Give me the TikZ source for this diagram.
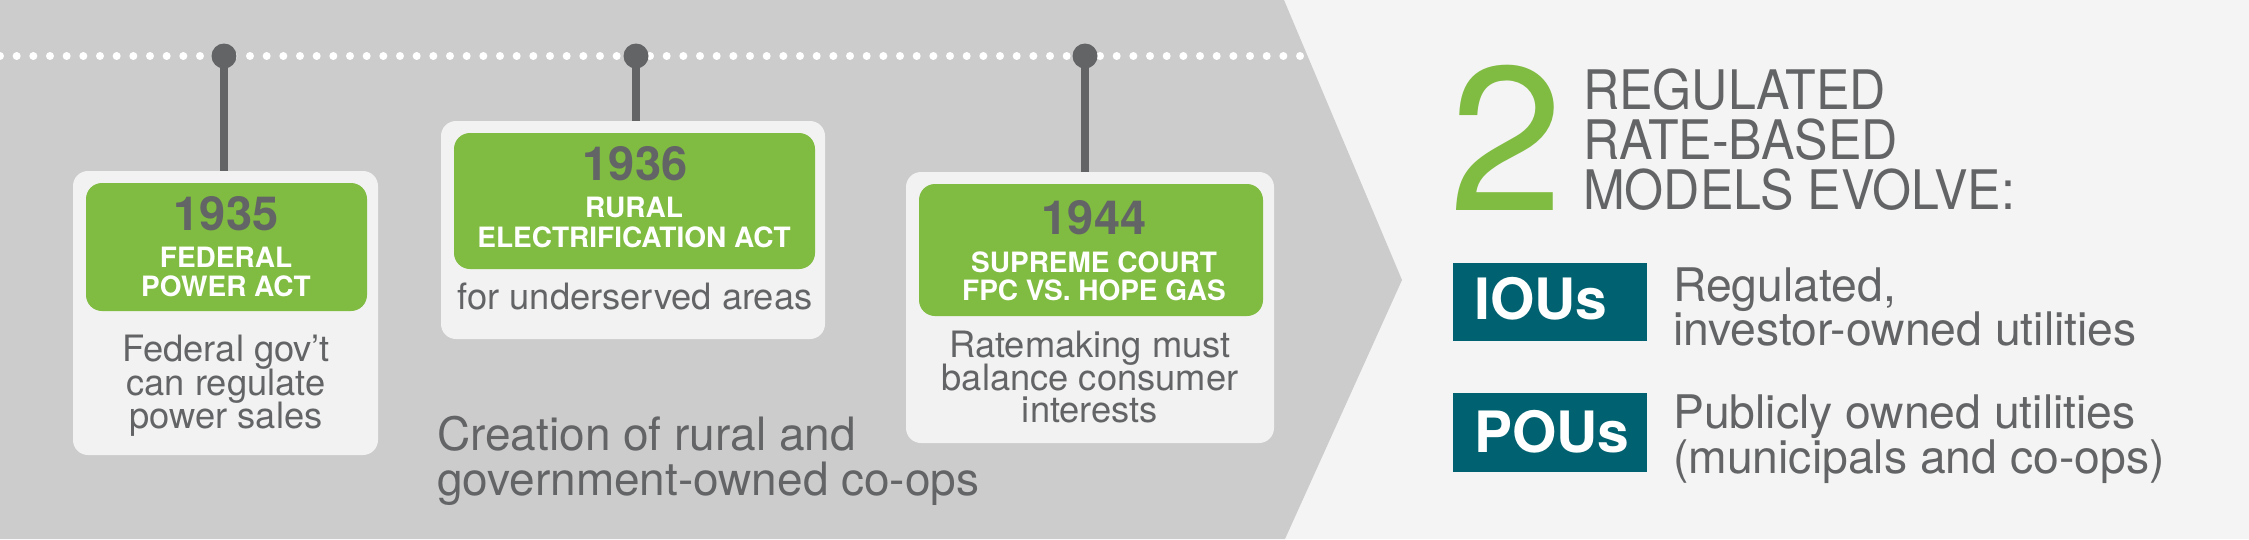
\documentclass[tikz,border=0pt]{standalone}
\usepackage{fontspec}
\setmainfont{TeX Gyre Heros}
\newfontfamily\headfont{TeX Gyre Heros}[FakeStretch=0.92]
\definecolor{graybg}{HTML}{CCCCCC}
\definecolor{lightbg}{HTML}{F4F4F4}
\definecolor{boxbg}{HTML}{F2F2F2}
\definecolor{leaf}{HTML}{80BC41}
\definecolor{teal}{HTML}{006270}
\definecolor{dark}{HTML}{636466}
\tikzset{
  outerbox/.style={fill=boxbg, rounded corners=15pt, inner sep=0pt},
  greenbox/.style={fill=leaf, rounded corners=16pt, inner sep=0pt},
  pinhead/.style={circle, fill=dark, minimum size=25pt, inner sep=0pt},
  stem/.style={draw=dark, line width=8pt},
  yeartxt/.style={font=\bfseries\fontsize{47}{47}\selectfont, text=dark, anchor=base, inner sep=0pt},
  titletxt/.style={font=\bfseries\fontsize{28}{28}\selectfont, text=white, anchor=base, inner sep=0pt},
  bodytxt/.style={font=\fontsize{36.3}{36}\selectfont, text=dark, anchor=base, inner sep=0pt},
  notetxt/.style={font=\fontsize{46}{46}\selectfont, text=dark, anchor=base west, inner sep=0pt},
  headtxt/.style={font=\headfont\fontsize{54.5}{50}\selectfont, text=dark, anchor=base west, inner sep=0pt},
  tealbox/.style={fill=teal, minimum width=194pt, minimum height=78pt, inner sep=0pt},
  tealtxt/.style={font=\bfseries\fontsize{57}{57}\selectfont, text=white, anchor=base west, inner sep=0pt},
  desctxt/.style={font=\fontsize{46.3}{46}\selectfont, text=dark, anchor=base west, inner sep=0pt},
}
\begin{document}
\begin{tikzpicture}[x=1pt,y=-1pt]
\useasboundingbox (0,0) rectangle (2249,539);
% backgrounds
\fill[lightbg] (0,0) rectangle (2249,539);
\fill[graybg] (0,0) -- (1284,0) -- (1402,280) -- (1285,539) -- (0,539) -- cycle;
% dotted timeline
\foreach \k in {0,...,78} \fill[white] (\k*16.667,56) circle (4pt);
% pins
\node[pinhead] (p1) at (224,56) {};
\node[pinhead] (p2) at (636,56) {};
\node[pinhead] (p3) at (1085,56) {};
% boxes
\node[outerbox, minimum width=305pt, minimum height=284pt] (box1) at (225.5,313) {};
\node[outerbox, minimum width=384pt, minimum height=218pt] (box2) at (633,230) {};
\node[outerbox, minimum width=368pt, minimum height=271pt] (box3) at (1090,307.5) {};
\draw[stem] (p1.center) -- (p1.center |- box1.north);
\draw[stem] (p2.center) -- (p2.center |- box2.north);
\draw[stem] (p3.center) -- (p3.center |- box3.north);
\node[greenbox, minimum width=281pt, minimum height=128pt] (g1) at (226.5,247) {};
\node[greenbox, minimum width=361pt, minimum height=136pt] (g2) at (634.5,201) {};
\node[greenbox, minimum width=344pt, minimum height=132pt] (g3) at (1091,250) {};
% box 1
\node[yeartxt] (y1) at (226,230) {1935};
\node[titletxt] (t1a) at (226,267) {FEDERAL};
\node[titletxt] (t1b) at (226,296) {POWER ACT};
\node[bodytxt] (b1a) at (226,361) {Federal gov’t};
\node[bodytxt] (b1b) at (226,395) {can regulate};
\node[bodytxt] (b1c) at (226,428) {power sales};
% box 2
\node[yeartxt] (y2) at (635,180) {1936};
\node[titletxt] (t2a) at (634,217) {RURAL};
\node[titletxt] (t2b) at (634,247) {ELECTRIFICATION ACT};
\node[bodytxt] (b2a) at (635,309) {for underserved areas};
% box 3
\node[yeartxt] (y3) at (1094,234) {1944};
\node[titletxt] (t3a) at (1094,272) {SUPREME COURT};
\node[titletxt] (t3b) at (1094,300) {FPC VS. HOPE GAS};
\node[bodytxt] (b3a) at (1090,357) {Ratemaking must};
\node[bodytxt] (b3b) at (1090,390) {balance consumer};
\node[bodytxt] (b3c) at (1090,422) {interests};
% note
\node[notetxt] (n1) at (437,450) {Creation of rural and};
\node[notetxt] (n2) at (437,495) {government-owned co-ops};
% right panel
\node[font=\fontsize{205}{205}\selectfont, text=leaf, anchor=base west, inner sep=0pt] (two) at (1449,210) {2};
\node[headtxt] (h1) at (1583,109) {REGULATED};
\node[headtxt] (h2) at (1583,159) {RATE-BASED};
\node[headtxt] (h3) at (1583,209) {MODELS EVOLVE:};
\node[tealbox] (iou) at (1550,302) {};
\node[tealbox, minimum height=79pt] (pou) at (1550,432.5) {};
\node[tealtxt] (iout) at (1474,319) {IOUs};
\node[tealtxt] (pout) at (1474,452) {POUs};
\node[desctxt] (d1a) at (1673,301) {Regulated,};
\node[desctxt] (d1b) at (1673,345) {investor-owned utilities};
\node[desctxt] (d2a) at (1673,428) {Publicly owned utilities};
\node[desctxt] (d2b) at (1673,473) {(municipals and co-ops)};
\end{tikzpicture}
\end{document}
